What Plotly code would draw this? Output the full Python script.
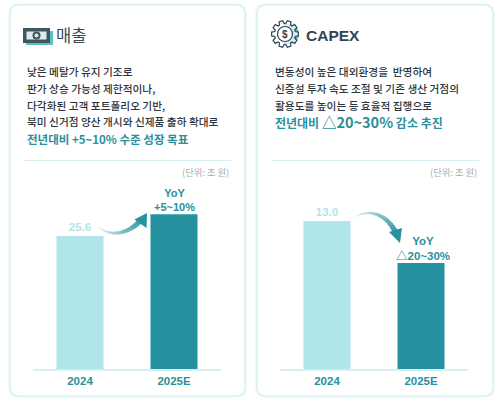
import math
import plotly.graph_objects as go

W, H = 500, 403
KR = "Liberation Sans, Noto Sans CJK KR"
HANGUL = "Noto Sans CJK KR"

# chart values
categories = ["2024", "2025E"]
sales_values = [25.6, 29.8]
sales_labels = ["25.6", ""]
capex_values = [13.0, 9.3]
capex_labels = ["13.0", ""]
unit_label = "(단위: 조 원)"

sales_lines = ["낮은 메탈가 유지 기조로", "판가 상승 가능성 제한적이나,", "다각화된 고객 포트폴리오 기반,",
               "북미 신거점 양산 개시와 신제품 출하 확대로"]
sales_accent = "전년대비 +5~10% 수준 성장 목표"
capex_lines = ["변동성이 높은 대외환경을  반영하여", "신증설 투자 속도 조절 및 기존 생산 거점의",
               "활용도를 높이는 등 효율적 집행으로"]
# the figures run wider than the hangul in this line
capex_accent = '전년대비 <span style="font-size:14.5px">△20~30%</span> 감소 추진'

LIGHT = "#b0e6ea"
TEAL = "#25929f"
TEXT_TEAL = "#2b8f9b"
BORDER = "#cdebf0"


def px(x):
    return x / W


def py(y):
    return 1 - y / H


shapes = []
annotations = []


def text(x, y, s, size, color, anchor="left", weight=500, family=KR):
    annotations.append(dict(x=px(x), y=py(y), xref="paper", yref="paper", text=s, showarrow=False,
                            xanchor=anchor, yanchor="middle",
                            font=dict(family=family, size=size, color=color, weight=weight)))


def panel(x0, x1):
    r = 9
    y0, y1 = 5, 396
    path = (f"M {px(x0 + r)} {py(y0)} L {px(x1 - r)} {py(y0)} Q {px(x1)} {py(y0)} {px(x1)} {py(y0 + r)} "
            f"L {px(x1)} {py(y1 - r)} Q {px(x1)} {py(y1)} {px(x1 - r)} {py(y1)} "
            f"L {px(x0 + r)} {py(y1)} Q {px(x0)} {py(y1)} {px(x0)} {py(y1 - r)} "
            f"L {px(x0)} {py(y0 + r)} Q {px(x0)} {py(y0)} {px(x0 + r)} {py(y0)} Z")
    # soft outer glow, then the card itself
    shapes.append(dict(type="path", xref="paper", yref="paper", path=path, fillcolor="white",
                       line=dict(color="#eef9fa", width=3.5), layer="below"))
    shapes.append(dict(type="path", xref="paper", yref="paper", path=path, fillcolor="white",
                       line=dict(color=BORDER, width=1.1), layer="below"))


def rule(x0, x1):
    shapes.append(dict(type="line", xref="paper", yref="paper", x0=px(x0), x1=px(x1), y0=py(160.5), y1=py(160.5),
                       line=dict(color="#d6edf1", width=1)))


def mix(a, b, t):
    ca = [int(a[i:i + 2], 16) for i in (1, 3, 5)]
    cb = [int(b[i:i + 2], 16) for i in (1, 3, 5)]
    return "rgb(%d,%d,%d)" % tuple(ca[i] + (cb[i] - ca[i]) * t for i in range(3))


def curved_arrow(p0, p1, p2, p3, head_l, head_r, tip):
    # gradient body drawn as short line pieces
    n = 30
    pts = []
    for i in range(n + 1):
        t = i / n
        u = 1 - t
        pts.append((u**3 * p0[0] + 3 * u * u * t * p1[0] + 3 * u * t * t * p2[0] + t**3 * p3[0],
                    u**3 * p0[1] + 3 * u * u * t * p1[1] + 3 * u * t * t * p2[1] + t**3 * p3[1]))
    for i in range(n):
        t = i / n
        shapes.append(dict(type="line", xref="paper", yref="paper",
                           x0=px(pts[i][0]), y0=py(pts[i][1]), x1=px(pts[i + 1][0]), y1=py(pts[i + 1][1]),
                           line=dict(color=mix("#eef9fa", TEAL, t), width=0.6 + 5 * t)))
    shapes.append(dict(type="path", xref="paper", yref="paper", fillcolor=TEAL, line=dict(width=0),
                       path=f"M {px(head_l[0])} {py(head_l[1])} L {px(tip[0])} {py(tip[1])} "
                            f"L {px(head_r[0])} {py(head_r[1])} Z"))


panel(10, 245)
panel(257, 493)
rule(24, 231)
rule(272, 479)

# bill icon
shapes += [
    dict(type="rect", xref="paper", yref="paper", x0=px(26), x1=px(53), y0=py(45), y1=py(31),
         fillcolor="#5cc0cc", line=dict(width=0)),
    dict(type="rect", xref="paper", yref="paper", x0=px(23), x1=px(50), y0=py(43), y1=py(28),
         fillcolor="#40565f", line=dict(width=0)),
    dict(type="rect", xref="paper", yref="paper", x0=px(26), x1=px(47), y0=py(40), y1=py(31),
         fillcolor="#dfeaec", line=dict(color="#40565f", width=1)),
    dict(type="circle", xref="paper", yref="paper", x0=px(32.5), x1=px(40.5), y0=py(39.5), y1=py(31.5),
         fillcolor="#40565f", line=dict(width=0)),
    dict(type="circle", xref="paper", yref="paper", x0=px(34.5), x1=px(38.5), y0=py(37.5), y1=py(33.5),
         fillcolor="#dfeaec", line=dict(width=0)),
]
text(54, 35, "매출", 16.5, "#3b4a54", weight=400, family=HANGUL)

# gear icon
cx, cy = 285, 34
shapes.append(dict(type="circle", xref="paper", yref="paper", x0=px(cx - 6), x1=px(cx + 14), y0=py(cy + 10),
                   y1=py(cy - 10), fillcolor="#5cc0cc", line=dict(width=0)))
gear = []
for k in range(10):
    a = 2 * math.pi * k / 10
    for da, r in ((-0.24, 10.5), (-0.14, 13.5), (0.14, 13.5), (0.24, 10.5)):
        gear.append((cx + r * math.cos(a + da), cy + r * math.sin(a + da)))
shapes.append(dict(type="path", xref="paper", yref="paper", line=dict(color="#2f4552", width=1.2),
                   fillcolor="rgba(255,255,255,0.75)",
                   path="M " + " L ".join(f"{px(a)} {py(b)}" for a, b in gear) + " Z"))
shapes.append(dict(type="circle", xref="paper", yref="paper", x0=px(cx - 7.5), x1=px(cx + 7.5), y0=py(cy + 7.5),
                   y1=py(cy - 7.5), fillcolor="white", line=dict(color="#2f4552", width=1.2)))
text(cx, cy, "$", 10, "#2f4552", "center", 700)
text(304, 35, "CAPEX", 15.5, "#33444f", weight=700)

for i, line in enumerate(sales_lines):
    text(24.5, 71 + i * 17, line, 10.7, "#2b363c", family=HANGUL)
text(24.5, 138.5, sales_accent, 11.5, TEXT_TEAL, weight=700, family=HANGUL)
for i, line in enumerate(capex_lines):
    text(272.5, 71 + i * 17, line, 10.7, "#2b363c", family=HANGUL)
text(272.5, 121.5, capex_accent, 12, TEXT_TEAL, weight=700, family=HANGUL)

text(231, 172, unit_label, 9.3, "#9fb0b7", "right", 400, family=HANGUL)
text(478.5, 172, unit_label, 9.3, "#9fb0b7", "right", 400, family=HANGUL)

text(174, 200, "YoY<br>+5~10%", 11, TEXT_TEAL, "center", 700)
text(423, 248, "YoY<br>△20~30%", 11.5, TEXT_TEAL, "center", 700)

curved_arrow((97, 225), (106, 236), (126, 237), (141, 220), (134.5, 219.5), (146.5, 228), (147, 213))
curved_arrow((352, 219), (366, 208), (386, 212), (396, 233), (389, 232), (402, 228), (400, 243))

fig = go.Figure()
fig.add_trace(go.Bar(x=categories, y=sales_values, xaxis="x", yaxis="y", width=0.5,
                     marker=dict(color=[LIGHT, TEAL], line=dict(width=0)),
                     text=sales_labels, textposition="outside", cliponaxis=False,
                     textfont=dict(family=KR, size=11.5, color=LIGHT, weight=700)))
fig.add_trace(go.Bar(x=categories, y=capex_values, xaxis="x2", yaxis="y2", width=0.5,
                     marker=dict(color=[LIGHT, TEAL], line=dict(width=0)),
                     text=capex_labels, textposition="outside", cliponaxis=False,
                     textfont=dict(family=KR, size=11.5, color=LIGHT, weight=700)))

axis_x = dict(type="category", showgrid=False, zeroline=False, showline=True, linecolor="#d9eef0", linewidth=2,
              ticks="", tickfont=dict(family=KR, size=11.5, color=TEXT_TEAL, weight=700), range=[-0.5, 1.5])
axis_y = dict(showgrid=False, zeroline=False, showline=False, showticklabels=False, ticks="",
              domain=[py(369), py(190)])

fig.update_layout(
    width=W, height=H, margin=dict(l=0, r=0, t=0, b=0), showlegend=False, bargap=0.5,
    paper_bgcolor="white", plot_bgcolor="rgba(0,0,0,0)",
    xaxis=dict(axis_x, domain=[px(33), px(221)]),
    yaxis=dict(axis_y, range=[0, 34.46]),
    xaxis2=dict(axis_x, domain=[px(280), px(468)], anchor="y2"),
    yaxis2=dict(axis_y, range=[0, 15.72], anchor="x2"),
    shapes=shapes, annotations=annotations,
)

fig.write_html("out.html", config={"displayModeBar": False}, post_script="document.body.style.margin='0';")
